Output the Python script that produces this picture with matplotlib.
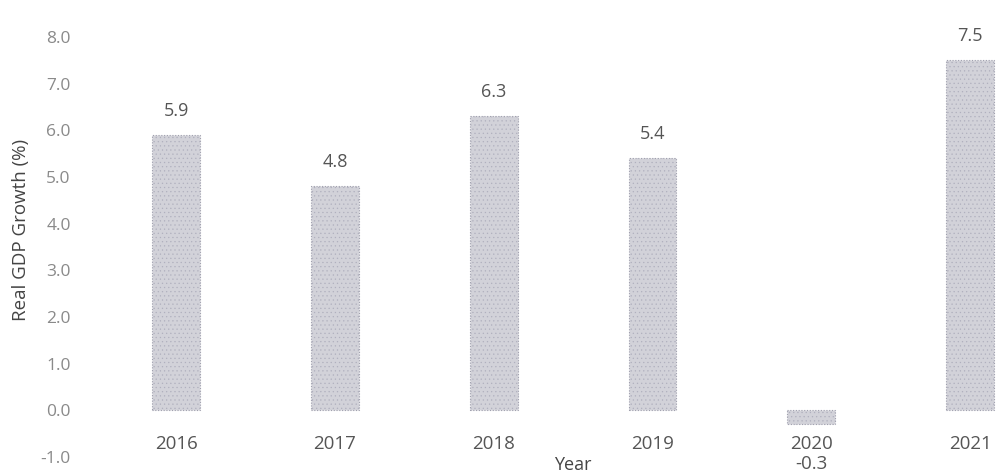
import matplotlib
matplotlib.use("Agg")
import matplotlib.pyplot as plt

years = ["2016", "2017", "2018", "2019", "2020", "2021"]
growth = [5.9, 4.8, 6.3, 5.4, -0.3, 7.5]
yticks = [-1.0, 0.0, 1.0, 2.0, 3.0, 4.0, 5.0, 6.0, 7.0, 8.0]

plt.rcParams['font.family'] = ['Open Sans', 'DejaVu Sans']

fig = plt.figure(figsize=(9.97, 4.75), dpi=100)
ax = fig.add_axes([0.078, 0.038, 0.922, 0.884])

x = list(range(len(years)))
bars = ax.bar(x, growth, width=0.30, color='#d2d2d9', edgecolor='#a0a0ae',
              linewidth=0.8, linestyle=(0, (1, 1.5)), hatch='....', zorder=2)
for b in bars:
    b.set_hatch_linewidth(0.4)
    b._hatch_color = matplotlib.colors.to_rgba('#b0b0be')

ax.set_ylim(-1.0, 8.0)
ax.set_xlim(-0.62, 5.17)
ax.set_yticks(yticks)
ax.set_yticklabels([f"{v:.1f}" for v in yticks], color='#8a8a8a', fontsize=12.5)
ax.set_xticks([])
for s in ax.spines.values():
    s.set_visible(False)
ax.tick_params(axis='y', length=0, pad=5)

for xi, v, lab in zip(x, growth, years):
    ax.text(xi, -0.72, lab, ha='center', va='center', fontsize=13.5, color='#555555')
    if v >= 0:
        ax.text(xi, v + 0.52, f"{v:.1f}", ha='center', va='center', fontsize=13, color='#555555')
    else:
        ax.text(xi, -1.16, f"{v:.1f}", ha='center', va='center', fontsize=13.5, color='#555555')

fig.text(0.021, 0.516, "Real GDP Growth (%)", rotation=90, ha='center', va='center',
         fontsize=13.5, color='#444444')
fig.text(0.575, 0.003, "Year", ha='center', va='bottom', fontsize=13, color='#444444')

fig.savefig("out.png", dpi=100)
